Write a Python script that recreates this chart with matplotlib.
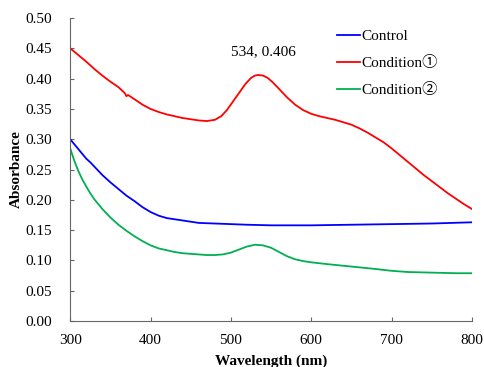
import matplotlib
matplotlib.use('Agg')
import matplotlib.pyplot as plt

plt.rcParams['font.family'] = ['Liberation Serif', 'DejaVu Serif', 'Noto Sans CJK JP']

# datos
wl_control = [300, 305, 310, 315, 320, 325, 330, 340, 350, 360, 370, 380, 390, 400, 410, 420, 430,
              440, 450, 460, 480, 500, 520, 550, 580, 600, 650, 700, 750, 800]
control = [0.300, 0.292, 0.284, 0.276, 0.268, 0.262, 0.255, 0.241, 0.229, 0.218, 0.207, 0.198, 0.188,
           0.180, 0.174, 0.170, 0.168, 0.166, 0.164, 0.162, 0.161, 0.160, 0.159, 0.158, 0.158, 0.158,
           0.159, 0.160, 0.161, 0.163]

wl_cond1 = [300, 310, 320, 330, 340, 350, 360, 368, 370, 372, 380, 390, 400, 410, 420, 430, 440, 450,
            460, 470, 480, 488, 495, 502, 510, 518, 525, 530, 534, 540, 546, 552, 560, 570, 580, 590,
            600, 610, 620, 630, 640, 650, 660, 670, 680, 690, 700, 710, 720, 730, 740, 750, 760, 770,
            780, 790, 800]
cond1 = [0.450, 0.439, 0.428, 0.416, 0.405, 0.395, 0.386, 0.376, 0.371, 0.373, 0.366, 0.357, 0.350,
         0.345, 0.341, 0.338, 0.335, 0.333, 0.331, 0.330, 0.332, 0.338, 0.348, 0.361, 0.376, 0.391,
         0.401, 0.405, 0.406, 0.405, 0.401, 0.394, 0.383, 0.369, 0.357, 0.348, 0.342, 0.338, 0.335,
         0.332, 0.328, 0.324, 0.318, 0.311, 0.303, 0.295, 0.285, 0.274, 0.263, 0.252, 0.241, 0.231,
         0.221, 0.211, 0.202, 0.193, 0.185]

wl_cond2 = [300, 305, 310, 315, 320, 325, 330, 340, 350, 360, 370, 380, 390, 400, 410, 420, 430, 440,
            450, 460, 470, 480, 490, 500, 510, 520, 530, 540, 550, 560, 570, 580, 590, 600, 620, 650,
            680, 700, 720, 750, 780, 800]
cond2 = [0.285, 0.265, 0.248, 0.234, 0.222, 0.211, 0.201, 0.185, 0.171, 0.159, 0.149, 0.140, 0.132,
         0.125, 0.120, 0.117, 0.114, 0.112, 0.111, 0.110, 0.109, 0.109, 0.110, 0.113, 0.118, 0.123,
         0.126, 0.125, 0.121, 0.114, 0.107, 0.102, 0.099, 0.097, 0.094, 0.090, 0.086, 0.083, 0.081,
         0.080, 0.079, 0.079]

peak_x, peak_y = 534, 0.406

fig = plt.figure(figsize=(4.84, 3.67), dpi=100)
ax = fig.add_axes([0.145, 0.125, 0.83, 0.826])

ax.plot(wl_control, control, color='#0000ff', lw=1.3, label='Control')
ax.plot(wl_cond1, cond1, color='#ff0000', lw=1.3, label='Condition①')
ax.plot(wl_cond2, cond2, color='#00b050', lw=1.3, label='Condition②')

ax.annotate(f'{peak_x}, {peak_y}', xy=(peak_x, peak_y), xytext=(540, 0.444),
            ha='center', va='center', fontsize=11)

ax.set_xlim(300, 800)
ax.set_ylim(0, 0.5)
ax.set_xticks([300, 400, 500, 600, 700, 800])
ax.set_yticks([i * 0.05 for i in range(11)])
ax.yaxis.set_major_formatter(matplotlib.ticker.FormatStrFormatter('%.2f'))
ax.tick_params(direction='in', length=3, labelsize=11, color='#666666')
ax.tick_params(axis='y', pad=13)
ax.tick_params(axis='x', pad=9)
for s in ['top', 'right']:
    ax.spines[s].set_visible(False)
for s in ['left', 'bottom']:
    ax.spines[s].set_color('#666666')

ax.set_xlabel('Wavelength (nm)', fontsize=11, fontweight='bold', labelpad=6)
ax.set_ylabel('Absorbance', fontsize=11, fontweight='bold', labelpad=2)

ax.legend(loc='upper left', bbox_to_anchor=(0.63, 1.008), frameon=False, fontsize=11,
          handlelength=1.5, handletextpad=0.1, labelspacing=0.85)

fig.savefig('out.png', dpi=100)
